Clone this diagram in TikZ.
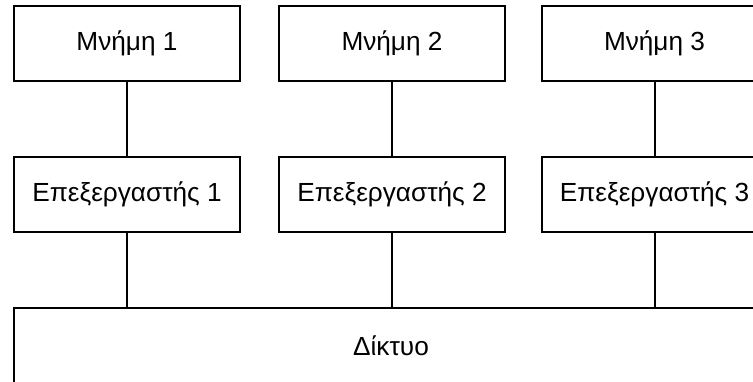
\documentclass[tikz,border=0pt]{standalone}
\usepackage{fontspec}
\setmainfont{Liberation Sans}
\begin{document}
\begin{tikzpicture}[x=0.5pt,y=-0.5pt,
  boxst/.style={draw=black,line width=1pt,minimum width=113pt,minimum height=37.5pt,inner sep=0pt,font=\fontsize{13.1pt}{15pt}\selectfont,fill=white},
  netst/.style={draw=black,line width=1pt,minimum width=377pt,minimum height=37.5pt,inner sep=0pt,font=\fontsize{13.1pt}{15pt}\selectfont},
  link/.style={draw=black,line width=1pt}]
\useasboundingbox (0,0) rectangle (753,381);
\clip (0,0) rectangle (753,381);
\node[boxst] (m1) at (127,43.5) {Μνήμη 1};
\node[boxst] (m2) at (392,43.5) {Μνήμη 2};
\node[boxst] (m3) at (654.5,43.5) {Μνήμη 3};
\node[boxst] (p1) at (127,194.5) {Επεξεργαστής 1};
\node[boxst] (p2) at (392,194.5) {Επεξεργαστής 2};
\node[boxst] (p3) at (654.5,194.5) {Επεξεργαστής 3};
\node[netst] (net) at (391,345.5) {Δίκτυο};
\draw[link] (m1) -- (p1);
\draw[link] (m2) -- (p2);
\draw[link] (m3) -- (p3);
\draw[link] (p1) -- (p1.south |- net.north);
\draw[link] (p2) -- (p2.south |- net.north);
\draw[link] (p3) -- (p3.south |- net.north);
\end{tikzpicture}
\end{document}
